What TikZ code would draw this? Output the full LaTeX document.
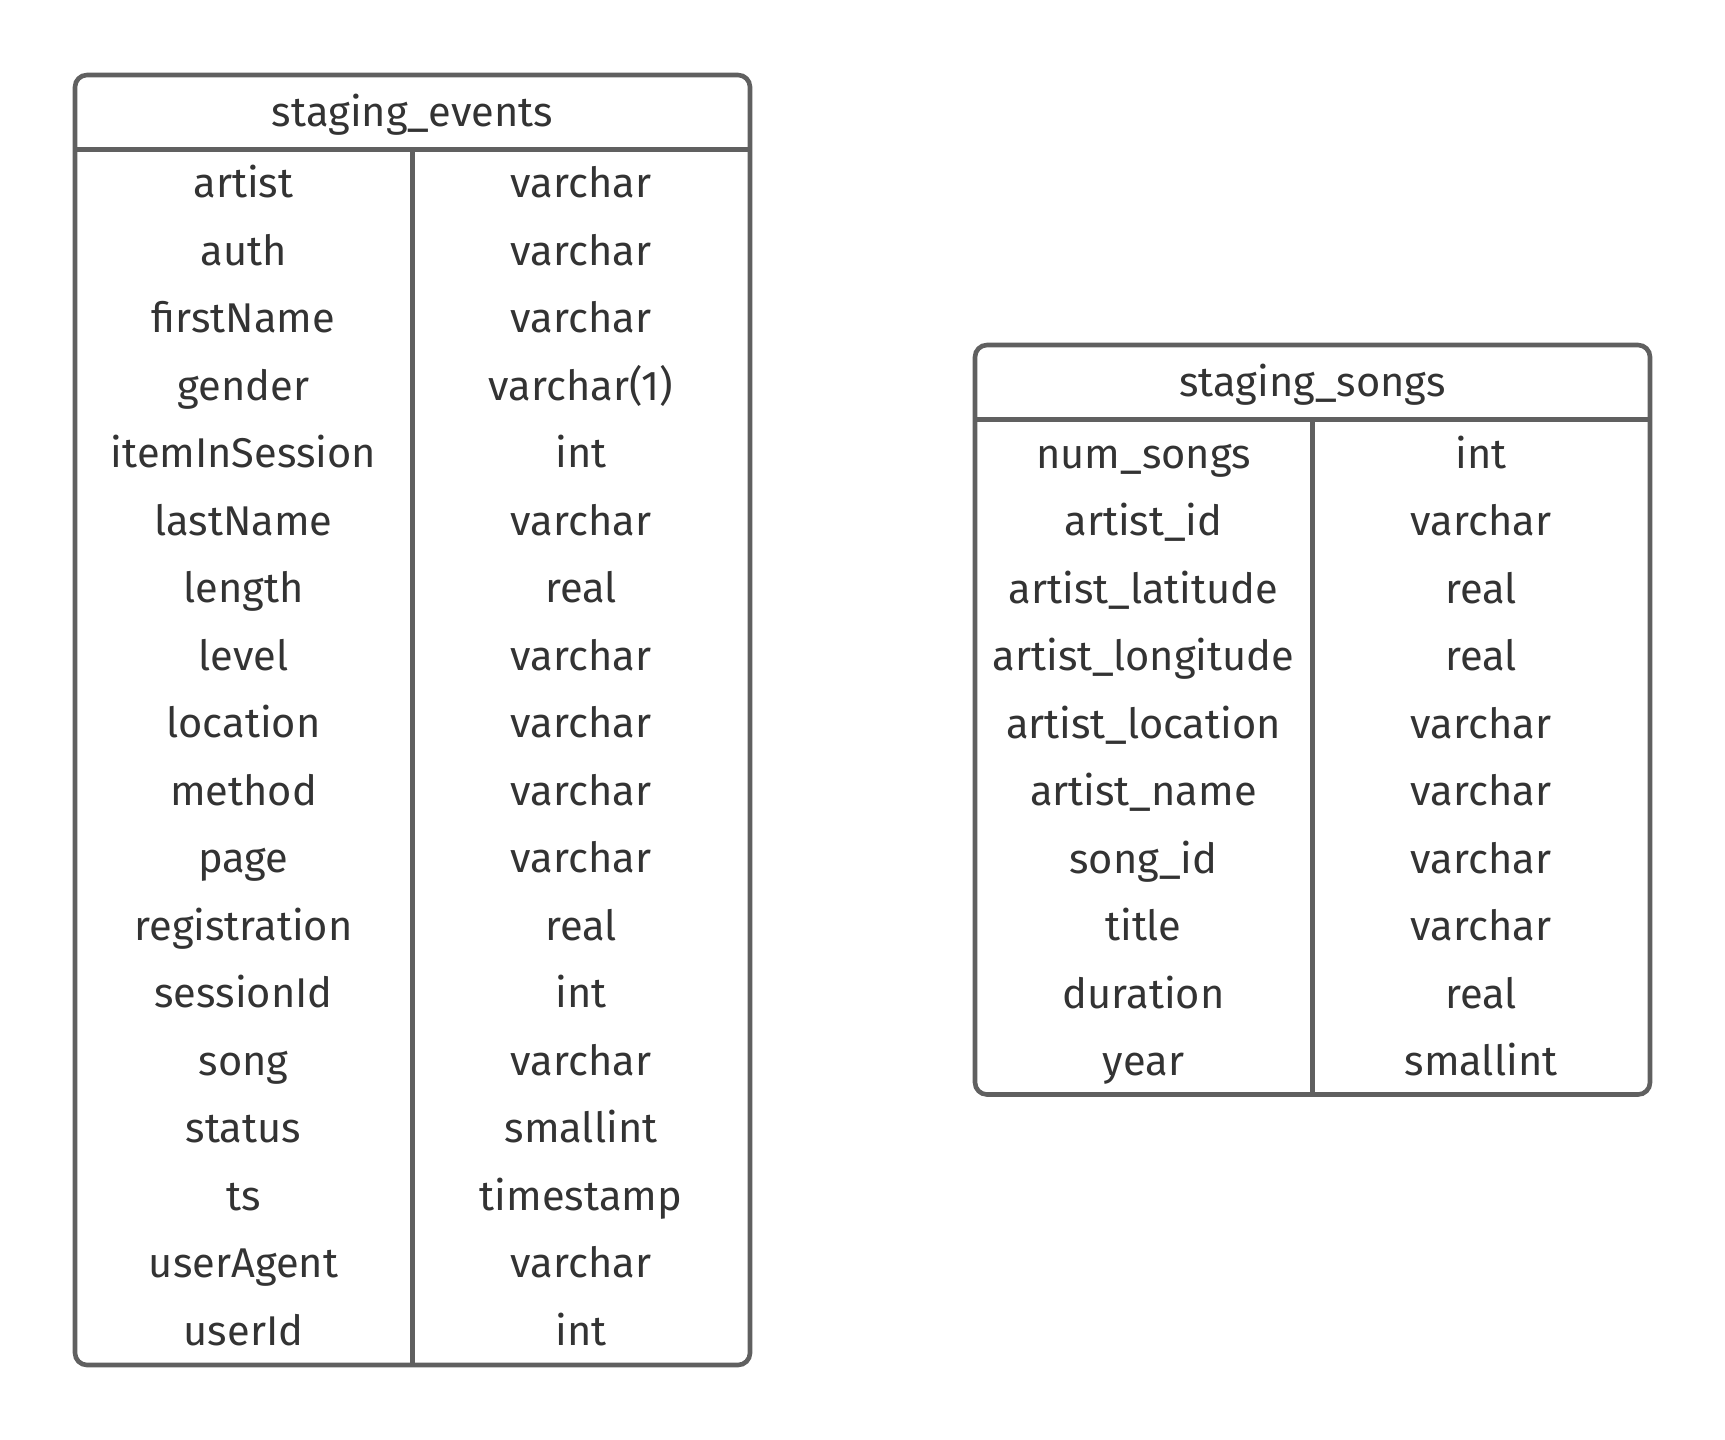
\documentclass[tikz,border=0pt]{standalone}
\usepackage{fontspec}
\setmainfont{Fira Sans}
\usetikzlibrary{positioning}
\definecolor{framegray}{HTML}{606060}
\definecolor{textgray}{HTML}{333333}

\begin{document}
\begin{tikzpicture}[
  x=0.5pt, y=-0.5pt,
  cell/.style={font=\fontsize{20.8}{25}\selectfont, text=textgray, inner sep=0pt,
    text height=0.72em, text depth=0.22em, anchor=center},
  tableframe/.style={draw=framegray, line width=2.3pt, rounded corners=6pt},
  rule/.style={draw=framegray, line width=2.3pt}
  ]
  \useasboundingbox (0,0) rectangle (1725,1440);

  % staging_events
  \draw[tableframe] (75,75) rectangle (750,1365);
  \coordinate (ev-hl) at (75,149.5);
  \coordinate (ev-hr) at (750,149.5);
  \coordinate (ev-dt) at (412.5,149.5);
  \coordinate (ev-db) at (412.5,1365);
  \draw[rule] (ev-hl) -- (ev-hr);
  \draw[rule] (ev-dt) -- (ev-db);
  \node[cell] (ev-head) at (412.5,121) {staging\_events};
  \foreach \fld/\typ [count=\i from 0] in {artist/varchar, auth/varchar,
      firstName/varchar, gender/varchar(1), itemInSession/int,
      lastName/varchar, length/real, level/varchar, location/varchar,
      method/varchar, page/varchar, registration/real, sessionId/int,
      song/varchar, status/smallint, ts/timestamp, userAgent/varchar,
      userId/int}{
    \node[cell] (ev-fld-\i) at (243.5,192.7+67.5*\i) {\fld};
    \node[cell] (ev-typ-\i) at (581,192.7+67.5*\i) {\typ};
  }

  % staging_songs
  \draw[tableframe] (975,345) rectangle (1650,1094.5);
  \coordinate (so-hl) at (975,419.5);
  \coordinate (so-hr) at (1650,419.5);
  \coordinate (so-dt) at (1312.5,419.5);
  \coordinate (so-db) at (1312.5,1094.5);
  \draw[rule] (so-hl) -- (so-hr);
  \draw[rule] (so-dt) -- (so-db);
  \node[cell] (so-head) at (1312.5,391.5) {staging\_songs};
  \foreach \fld/\typ [count=\i from 0] in {num\_songs/int,
      artist\_id/varchar, artist\_latitude/real, artist\_longitude/real,
      artist\_location/varchar, artist\_name/varchar, song\_id/varchar,
      title/varchar, duration/real, year/smallint}{
    \node[cell] (so-fld-\i) at (1143.5,463.3+67.5*\i) {\fld};
    \node[cell] (so-typ-\i) at (1481,463.3+67.5*\i) {\typ};
  }
\end{tikzpicture}
\end{document}
